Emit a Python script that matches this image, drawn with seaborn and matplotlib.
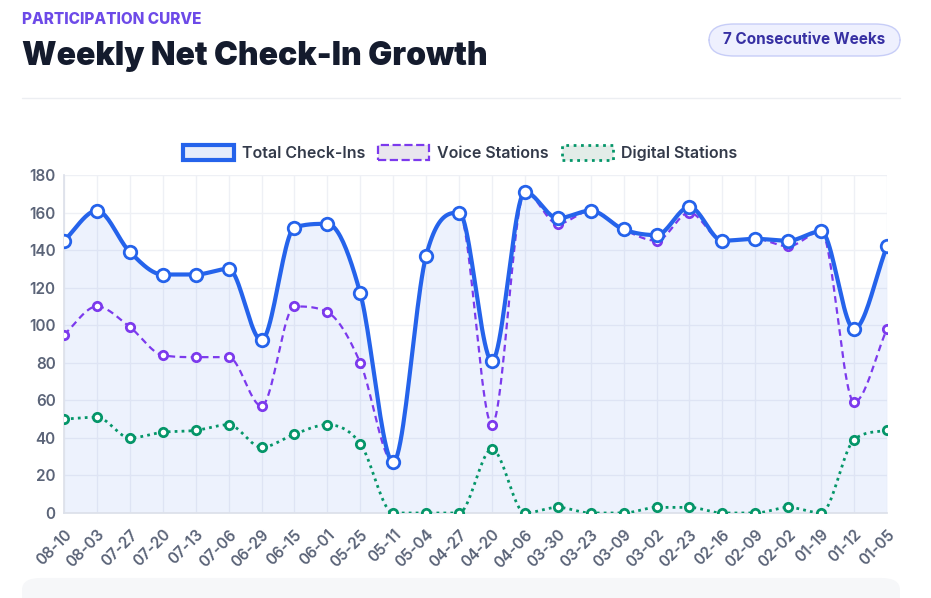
import numpy as np
import pandas as pd
import matplotlib
matplotlib.use("Agg")
import matplotlib.pyplot as plt
import seaborn as sns
from matplotlib.patches import FancyBboxPatch
from matplotlib.lines import Line2D
from matplotlib.patches import Patch

weeks = ["08-10", "08-03", "07-27", "07-20", "07-13", "07-06", "06-29", "06-15", "06-01",
         "05-25", "05-11", "05-04", "04-27", "04-20", "04-06", "03-30", "03-23", "03-09",
         "03-02", "02-23", "02-16", "02-09", "02-02", "01-19", "01-12", "01-05"]
voice = [95, 110, 99, 84, 83, 83, 57, 110, 107, 80, 27, 137, 160, 47, 171, 154, 161, 151,
         145, 160, 145, 146, 142, 150, 59, 98]
digital = [50, 51, 40, 43, 44, 47, 35, 42, 47, 37, 0, 0, 0, 34, 0, 3, 0, 0, 3, 3, 0, 0, 3,
           0, 39, 44]
total = [v + d for v, d in zip(voice, digital)]

BLUE, PURPLE, GREEN = "#2563eb", "#7c3aed", "#059669"
sns.set_theme(style="white")
plt.rcParams["font.family"] = ["Inter", "DejaVu Sans"]


def smooth(y, n=24):
    # monotone cubic (Fritsch-Carlson), as the chart does
    y = np.asarray(y, float)
    k = len(y)
    d = np.diff(y)
    m = np.zeros(k)
    m[0], m[-1] = d[0], d[-1]
    for i in range(1, k - 1):
        m[i] = 0 if d[i - 1] * d[i] <= 0 else (d[i - 1] + d[i]) / 2
    for i in range(k - 1):
        if d[i] == 0:
            m[i] = m[i + 1] = 0
            continue
        a, b = m[i] / d[i], m[i + 1] / d[i]
        h = a * a + b * b
        if h > 9:
            t = 3 / np.sqrt(h)
            m[i], m[i + 1] = t * a * d[i], t * b * d[i]
    xs, ys = [], []
    s = np.linspace(0, 1, n)
    for i in range(k - 1):
        h00 = 2 * s ** 3 - 3 * s ** 2 + 1
        h10 = s ** 3 - 2 * s ** 2 + s
        h01 = -2 * s ** 3 + 3 * s ** 2
        h11 = s ** 3 - s ** 2
        xs.extend(i + s)
        ys.extend(h00 * y[i] + h10 * m[i] + h01 * y[i + 1] + h11 * m[i + 1])
    return np.array(xs), np.array(ys)


fig = plt.figure(figsize=(9.31, 5.98), dpi=100)
fig.patch.set_facecolor("white")
ax = fig.add_axes([64 / 931, 1 - 513 / 598, 823 / 931, 338 / 598])

df = pd.DataFrame({"x": np.arange(len(weeks)), "total": total, "voice": voice, "digital": digital})
for col, color, ls, lw, ms in [("digital", GREEN, (0, (1, 1.5)), 2, 6),
                               ("voice", PURPLE, (0, (3, 2)), 1.6, 6),
                               ("total", BLUE, "-", 3, 9)]:
    sx, sy = smooth(df[col])
    if col == "total":
        ax.fill_between(sx, sy, 0, color=BLUE, alpha=0.08, lw=0)
    ax.plot(sx, sy, color=color, ls=ls, lw=lw, zorder=3)
    sns.scatterplot(data=df, x="x", y=col, ax=ax, s=ms ** 2, color="white",
                    edgecolor=color, linewidth=2, zorder=4, legend=False)

ax.set_xlim(0, len(weeks) - 1)
ax.set_ylim(0, 180)
ax.set_yticks(range(0, 181, 20))
ax.set_xticks(range(len(weeks)))
ax.set_xticklabels(weeks, rotation=45, ha="right", rotation_mode="anchor")
ax.tick_params(axis="both", labelsize=11, colors="#5b6478", length=0, pad=6)
ax.tick_params(axis="x", pad=10)
for lab in ax.get_xticklabels() + ax.get_yticklabels():
    lab.set_fontweight("semibold")
ax.set_xlabel(""); ax.set_ylabel("")
ax.grid(True, color="#eef0f5", lw=1)
for s in ax.spines.values():
    s.set_visible(False)
ax.spines["left"].set_visible(True); ax.spines["left"].set_color("#dde1ea")
ax.spines["bottom"].set_visible(True); ax.spines["bottom"].set_color("#dde1ea")

handles = [Patch(facecolor="#e6ecfb", edgecolor=BLUE, lw=3, label="Total Check-Ins"),
           Patch(facecolor="#e9e6ee", edgecolor=PURPLE, lw=1.6, ls="--", label="Voice Stations"),
           Patch(facecolor="#e3ece8", edgecolor=GREEN, lw=2, ls=":", label="Digital Stations")]
leg = fig.legend(handles=handles, loc="center", bbox_to_anchor=(460 / 931, 1 - 153 / 598), ncol=3,
                 frameon=False, fontsize=11.5, handlelength=3.2, handleheight=1.1,
                 columnspacing=0.8, handletextpad=0.5, labelcolor="#333a4a")
for t in leg.get_texts():
    t.set_fontweight("semibold")

fig.text(22 / 931, 1 - 19 / 598, "PARTICIPATION CURVE", color="#6d4ae8", fontsize=11,
         fontweight="heavy", va="center")
fig.text(22 / 931, 1 - 56 / 598, "Weekly Net Check-In Growth", color="#141b2d", fontsize=23,
         fontweight="black", va="center")
badge = FancyBboxPatch((709 / 931, 1 - 56 / 598), 191 / 931, 32 / 598,
                       boxstyle="round,pad=0,rounding_size=0.027", transform=fig.transFigure,
                       facecolor="#eef0fe", edgecolor="#c7cdf7", lw=1)
fig.patches.append(badge)
fig.text(804 / 931, 1 - 40 / 598, "7 Consecutive Weeks", color="#3730a3", fontsize=11,
         fontweight="bold", ha="center", va="center")
fig.add_artist(Line2D([22 / 931, 900 / 931], [1 - 98 / 598] * 2, color="#eceef2", lw=1,
                      transform=fig.transFigure))
fig.patches.append(FancyBboxPatch((22 / 931, -0.02), 878 / 931, 32 / 598,
                                  boxstyle="round,pad=0,rounding_size=0.02",
                                  transform=fig.transFigure, facecolor="#f6f7f9",
                                  edgecolor="none"))

fig.savefig("out.png", dpi=100)
